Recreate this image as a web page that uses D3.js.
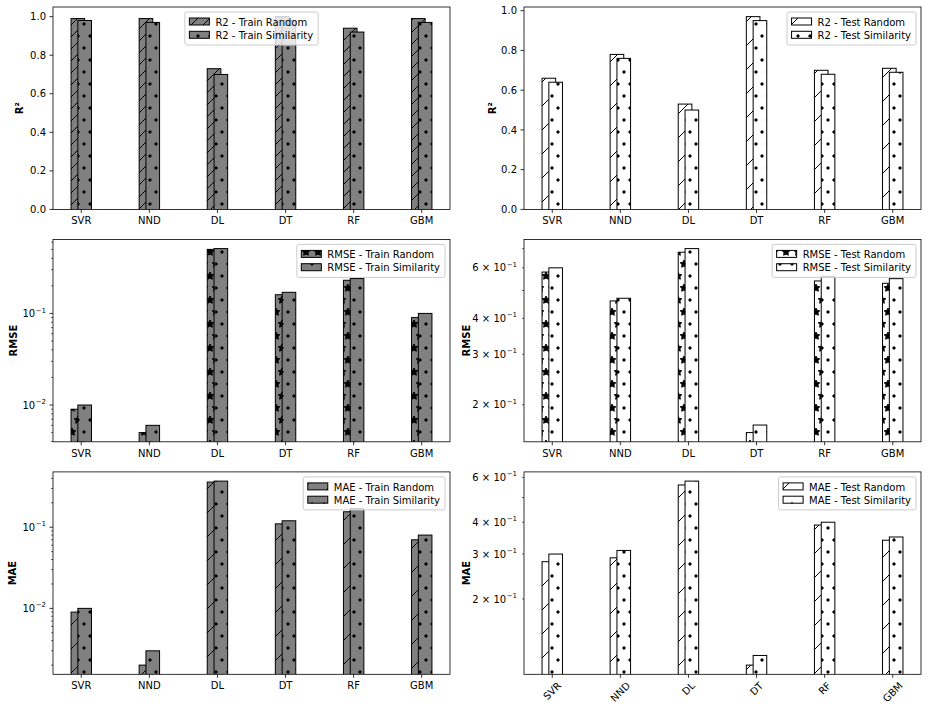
<!DOCTYPE html>
<html><head><meta charset="utf-8">
<script src="https://cdn.jsdelivr.net/npm/d3@7"></script>
<style>
body{margin:0;background:#fff}
svg{display:block}
text{font-family:"DejaVu Sans",sans-serif;fill:#000}
</style>
</head><body>
<svg id="chart" width="928" height="712"></svg>
<script>
// ---------------- data ----------------
const categories = ["SVR", "NND", "DL", "DT", "RF", "GBM"];

const r2TrainRandom      = [0.99, 0.99, 0.73, 1.00, 0.94, 0.99];
const r2TrainSimilarity  = [0.98, 0.97, 0.70, 0.98, 0.92, 0.97];
const r2TestRandom       = [0.66, 0.78, 0.53, 0.97, 0.70, 0.71];
const r2TestSimilarity   = [0.64, 0.76, 0.50, 0.95, 0.68, 0.69];

const rmseTrainRandom     = [0.009, 0.005, 0.50, 0.16, 0.23, 0.09];
const rmseTrainSimilarity = [0.010, 0.006, 0.51, 0.17, 0.24, 0.10];
const rmseTestRandom      = [0.58, 0.46, 0.68, 0.16, 0.54, 0.53];
const rmseTestSimilarity  = [0.60, 0.47, 0.70, 0.17, 0.56, 0.55];

const maeTrainRandom     = [0.009, 0.002, 0.36, 0.11, 0.155, 0.07];
const maeTrainSimilarity = [0.010, 0.003, 0.37, 0.12, 0.17, 0.08];
const maeTestRandom      = [0.28, 0.29, 0.56, 0.11, 0.39, 0.34];
const maeTestSimilarity  = [0.30, 0.31, 0.58, 0.12, 0.40, 0.35];

const linearTicks = [0.0, 0.2, 0.4, 0.6, 0.8, 1.0];
const decadeTicks = [0.01, 0.1];                 // labelled 10^-2, 10^-1
const minorMultipliers = [2, 3, 4, 5, 6, 7, 8, 9];
const labelledMinorMultipliers = [2, 3, 4, 6];   // labelled on sub-decade axes

// ---------------- setup ----------------
const svg = d3.select("#chart");
const defs = svg.append("defs");

function starPath(cx, cy, R, r) {
  let p = "";
  for (let k = 0; k < 10; k++) {
    const a = -Math.PI / 2 + k * Math.PI / 5;
    const rad = k % 2 === 0 ? R : r;
    p += (k ? "L" : "M") + (cx + rad * Math.cos(a)).toFixed(2) + "," + (cy + rad * Math.sin(a)).toFixed(2);
  }
  return p + "Z";
}
const gridPts = [[0,0],[12,0],[0,24],[12,24],[6,12]];
// dots
const pd = defs.append("pattern").attr("id","dots").attr("patternUnits","userSpaceOnUse")
  .attr("width",12).attr("height",24);
gridPts.forEach(([x,y]) => pd.append("circle").attr("cx",x).attr("cy",y).attr("r",1.2)
  .attr("fill","#000").attr("stroke","#000").attr("stroke-width",1));
// stars
const ps = defs.append("pattern").attr("id","stars").attr("patternUnits","userSpaceOnUse")
  .attr("width",12).attr("height",24);
gridPts.forEach(([x,y]) => ps.append("path").attr("d", starPath(x,y,4,2))
  .attr("fill","#000").attr("stroke","#000").attr("stroke-width",1));
// diagonal lines
function linePattern(id, P, phase) {
  const pl = defs.append("pattern").attr("id",id).attr("patternUnits","userSpaceOnUse")
    .attr("width",P).attr("height",P);
  let d = "";
  [phase - P, phase, phase + P, phase + 2*P].forEach(c => {
    d += `M${-2},${c+2}L${P+2},${c-P-2}`;
  });
  pl.append("path").attr("d", d).attr("stroke","#000").attr("stroke-width",1).attr("fill","none");
}
linePattern("diag1", 24, 0);
linePattern("diag2", 12, 0);

// ---------------- layout ----------------
const colLeft = [53, 524];
const axW = 397;
const rowTop = [7, 239.4, 471.9];
const axH = 202.4;

const GRAY = "#808080", WHITE = "#ffffff";

const panels = [
  {r:0,c:0, scale:"linear", a:r2TrainRandom, b:r2TrainSimilarity, fill:GRAY, ha:"diag2", hb:"dots",
   ylabel:"R²", ylx:22.7, leg:["R2 - Train Random","R2 - Train Similarity"], loc:"center"},
  {r:0,c:1, scale:"linear", a:r2TestRandom, b:r2TestSimilarity, fill:WHITE, ha:"diag1", hb:"dots",
   ylabel:"R²", ylx:495.7, leg:["R2 - Test Random","R2 - Test Similarity"], loc:"right"},
  {r:1,c:0, scale:"logDec", a:rmseTrainRandom, b:rmseTrainSimilarity, fill:GRAY, ha:"stars", hb:"dots",
   ylabel:"RMSE", ylx:16.5, leg:["RMSE - Train Random","RMSE - Train Similarity"], loc:"right"},
  {r:1,c:1, scale:"logSub", a:rmseTestRandom, b:rmseTestSimilarity, fill:WHITE, ha:"stars", hb:"dots",
   ylabel:"RMSE", ylx:470, leg:["RMSE - Test Random","RMSE - Test Similarity"], loc:"right"},
  {r:2,c:0, scale:"logDec", a:maeTrainRandom, b:maeTrainSimilarity, fill:GRAY, ha:"diag1", hb:"dots",
   ylabel:"MAE", ylx:15.5, leg:["MAE - Train Random","MAE - Train Similarity"], loc:"right"},
  {r:2,c:1, scale:"logSub", a:maeTestRandom, b:maeTestSimilarity, fill:WHITE, ha:"diag1", hb:"dots",
   ylabel:"MAE", ylx:470, leg:["MAE - Test Random","MAE - Test Similarity"], loc:"right", rotate:true},
];

function supLabel(t, mant, exp) {
  if (mant !== 1) t.append("tspan").text(mant + " × ");
  t.append("tspan").text("10");
  t.append("tspan").attr("dy", -4.5).attr("dx", 0.5).attr("font-size", 7).text("−" + Math.abs(exp));
}

panels.forEach(p => {
  const left = colLeft[p.c], top = rowTop[p.r], right = left + axW, bottom = top + axH;
  const n = categories.length;
  const lo = -0.15, hi = n - 1 + 0.15, pad = 0.05 * (hi - lo);
  const x = d3.scaleLinear().domain([lo - pad, hi + pad]).range([left, right]);

  const all = p.a.concat(p.b);
  let y;
  if (p.scale === "linear") {
    const mx = d3.max(all);
    y = d3.scaleLinear().domain([0, mx * 1.05]).range([bottom, top]);
  } else {
    const lmin = Math.log10(d3.min(all)), lmax = Math.log10(d3.max(all));
    const m = 0.05 * (lmax - lmin);
    y = d3.scaleLog().domain([Math.pow(10, lmin - m), Math.pow(10, lmax + m)]).range([bottom, top]);
  }

  const g = svg.append("g");
  const clipId = "clip" + p.r + p.c;
  defs.append("clipPath").attr("id", clipId).append("rect")
    .attr("x", left).attr("y", top).attr("width", axW).attr("height", axH);
  const bars = g.append("g").attr("clip-path", `url(#${clipId})`);

  function drawSeries(vals, off, hatch) {
    vals.forEach((v, i) => {
      const x0 = x(i + off - 0.1), x1 = x(i + off + 0.1);
      const yt = y(v), h = bottom - yt;
      bars.append("rect").attr("x", x0).attr("y", yt).attr("width", x1 - x0).attr("height", h)
        .attr("fill", p.fill);
      bars.append("rect").attr("x", x0).attr("y", yt).attr("width", x1 - x0).attr("height", h)
        .attr("fill", `url(#${hatch})`);
      bars.append("rect").attr("x", x0).attr("y", yt).attr("width", x1 - x0).attr("height", h + 2)
        .attr("fill", "none").attr("stroke", "#000").attr("stroke-width", 1);
    });
  }
  drawSeries(p.a, -0.05, p.ha);
  drawSeries(p.b, 0.05, p.hb);

  // spines
  g.append("rect").attr("x", left).attr("y", top).attr("width", axW).attr("height", axH)
    .attr("fill", "none").attr("stroke", "#000").attr("stroke-width", 0.8);

  // x ticks
  categories.forEach((c, i) => {
    const xx = x(i);
    g.append("line").attr("x1", xx).attr("x2", xx).attr("y1", bottom).attr("y2", bottom + 3.5)
      .attr("stroke", "#000").attr("stroke-width", 0.8);
    if (p.rotate) {
      const t = g.append("text").attr("font-size", 10).attr("text-anchor", "middle")
        .attr("dominant-baseline", "central").text(c);
      const w = t.node().getComputedTextLength(), h = 7.3;
      const bh = (w + h) * Math.SQRT1_2;
      const cy = bottom + 7 + bh / 2;
      t.attr("x", 0).attr("y", 0).attr("transform", `translate(${xx},${cy}) rotate(-45)`);
    } else {
      g.append("text").attr("x", xx).attr("y", bottom + 15).attr("font-size", 10)
        .attr("text-anchor", "middle").text(c);
    }
  });

  // y ticks
  const [d0, d1] = y.domain();
  function yTick(v, len, w) {
    g.append("line").attr("x1", left - len).attr("x2", left).attr("y1", y(v)).attr("y2", y(v))
      .attr("stroke", "#000").attr("stroke-width", w);
  }
  if (p.scale === "linear") {
    linearTicks.forEach(v => {
      yTick(v, 3.5, 0.8);
      g.append("text").attr("x", left - 7).attr("y", y(v) + 3.6).attr("font-size", 10)
        .attr("text-anchor", "end").text(d3.format(".1f")(v));
    });
  } else {
    const e0 = Math.floor(Math.log10(d0)), e1 = Math.ceil(Math.log10(d1));
    for (let e = e0; e <= e1; e++) {
      const dec = Math.pow(10, e);
      if (dec >= d0 && dec <= d1 && decadeTicks.some(t => Math.abs(t - dec) < 1e-12)) {
        yTick(dec, 3.5, 0.8);
        const t = g.append("text").attr("x", left - 7).attr("y", y(dec) + 3.6).attr("font-size", 10)
          .attr("text-anchor", "end");
        supLabel(t, 1, e);
      }
      minorMultipliers.forEach(m => {
        const v = m * dec;
        if (v < d0 || v > d1) return;
        yTick(v, 2, 0.6);
        if (p.scale === "logSub" && labelledMinorMultipliers.includes(m)) {
          const t = g.append("text").attr("x", left - 7).attr("y", y(v) + 3.6).attr("font-size", 10)
            .attr("text-anchor", "end");
          supLabel(t, m, e);
        }
      });
    }
  }

  // y label
  g.append("text").attr("transform", `translate(${p.ylx},${(top + bottom) / 2}) rotate(-90)`)
    .attr("text-anchor", "middle").attr("font-size", 10).attr("font-weight", "bold").text(p.ylabel);

  // legend
  const lg = svg.append("g");
  const box = lg.append("rect");
  const texts = p.leg.map(s => lg.append("text").attr("font-size", 10).text(s));
  const maxW = d3.max(texts, t => t.node().getComputedTextLength());
  const boxW = 4.5 + 20 + 6 + maxW + 5, boxH = 33;
  const bx = p.loc === "center" ? left + axW / 2 - boxW / 2 : right - 5 - boxW;
  const by = top + 5;
  box.attr("x", bx).attr("y", by).attr("width", boxW).attr("height", boxH).attr("rx", 2)
    .attr("fill", "#fff").attr("fill-opacity", 0.8).attr("stroke", "#cccccc").attr("stroke-width", 1);
  [[p.ha], [p.hb]].forEach(([h], i) => {
    const hy = by + 6 + i * 13.3;
    lg.append("rect").attr("x", bx + 4.5).attr("y", hy).attr("width", 20).attr("height", 7).attr("fill", p.fill);
    lg.append("rect").attr("x", bx + 4.5).attr("y", hy).attr("width", 20).attr("height", 7).attr("fill", `url(#${h})`);
    lg.append("rect").attr("x", bx + 4.5).attr("y", hy).attr("width", 20).attr("height", 7)
      .attr("fill", "none").attr("stroke", "#000").attr("stroke-width", 1);
    texts[i].attr("x", bx + 4.5 + 20 + 6).attr("y", by + 10 + i * 13.3 + 3.6);
  });
  texts.forEach(t => t.raise());
});
</script>
</body></html>
